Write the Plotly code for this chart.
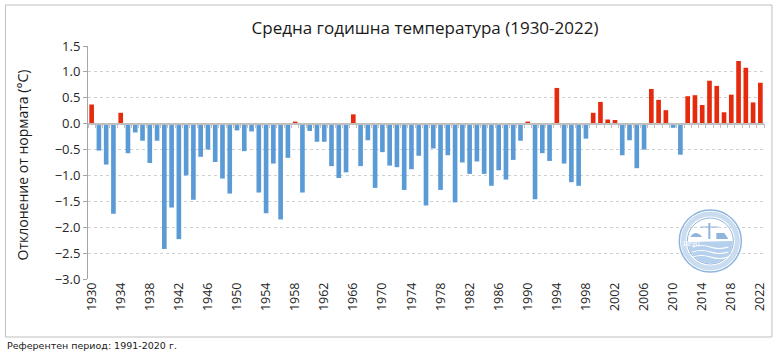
import math
import plotly.graph_objects as go

years = list(range(1930, 2023))
anomalies = [
    0.37, -0.52, -0.79, -1.74, 0.21, -0.57, -0.17, -0.33, -0.76, -0.33,   # 1930-1939
    -2.42, -1.62, -2.23, -1.00, -1.47, -0.64, -0.50, -0.74, -1.06, -1.35, # 1940-1949
    -0.13, -0.53, -0.15, -1.33, -1.73, -0.77, -1.85, -0.66, 0.04, -1.33,  # 1950-1959
    -0.14, -0.35, -0.35, -0.82, -1.05, -0.94, 0.18, -0.82, -0.32, -1.24,  # 1960-1969
    -0.55, -0.81, -0.84, -1.28, -0.88, -0.62, -1.58, -0.48, -1.28, -0.61, # 1970-1979
    -1.52, -0.75, -0.97, -0.73, -0.97, -1.20, -0.90, -1.08, -0.70, -0.33, # 1980-1989
    0.04, -1.46, -0.57, -0.72, 0.69, -0.77, -1.13, -1.20, -0.29, 0.21,    # 1990-1999
    0.42, 0.08, 0.07, -0.61, -0.32, -0.86, -0.50, 0.67, 0.46, 0.26,       # 2000-2009
    -0.08, -0.60, 0.53, 0.55, 0.36, 0.83, 0.73, 0.22, 0.56, 1.21,         # 2010-2019
    1.08, 0.41, 0.79,                                                     # 2020-2022
]
x_tick_years = list(range(1930, 2023, 4))
y_ticks = [1.5, 1.0, 0.5, 0.0, -0.5, -1.0, -1.5, -2.0, -2.5, -3.0]

title_text = "Средна годишна температура (1930-2022)"
y_title = "Отклонение от нормата (°C)"
footnote = "Референтен период: 1991-2020 г."
logo_year = "1890"

RED = "#e52a0e"
BLUE = "#5b9bd5"
colors = [RED if v > 0 else BLUE for v in anomalies]

W, H = 780, 357
L, R, T, B = 88, 12, 46, 78
PW, PH = W - L - R, H - T - B


def px(xp):
    return (xp - L) / PW


def py(yp):
    return (H - B - yp) / PH


fig = go.Figure()
fig.add_trace(go.Bar(
    x=years, y=anomalies, marker=dict(color=colors, line=dict(width=0)),
    hoverinfo="skip", showlegend=False,
))
# invisible trace to activate the zero-line axis
fig.add_trace(go.Scatter(
    x=[years[0]], y=[0], xaxis="x2", mode="markers",
    marker=dict(opacity=0), hoverinfo="skip", showlegend=False,
))

xr = [years[0] - 0.5, years[-1] + 0.5]
font_main = "Open Sans, Liberation Sans, sans-serif"

fig.update_layout(
    width=W, height=H,
    margin=dict(l=L, r=R, t=T, b=B),
    paper_bgcolor="white", plot_bgcolor="white",
    bargap=0.36,
    title=dict(text=title_text, x=425 / W, xref="container", xanchor="center",
               y=1 - 28 / H, yref="container", yanchor="middle",
               font=dict(family=font_main, size=17, color="#1a1a1a")),
    xaxis=dict(
        range=xr, tickmode="array", tickvals=x_tick_years,
        ticktext=[str(y) for y in x_tick_years], tickangle=-90,
        showgrid=False, zeroline=False, showline=False, ticks="",
        tickfont=dict(family=font_main, size=12.5, color="#262626"),
    ),
    xaxis2=dict(
        overlaying="x", anchor="free", position=3 / 4.5, side="bottom",
        range=xr, tickmode="array",
        tickvals=[y - 0.5 for y in years] + [years[-1] + 0.5],
        ticks="outside", ticklen=4, tickcolor="#bfbfbf", tickwidth=1,
        showticklabels=False, showgrid=False, zeroline=False,
        showline=True, linecolor="#bfbfbf", linewidth=1.5,
    ),
    yaxis=dict(
        range=[-3.0, 1.5], tickmode="array", tickvals=y_ticks,
        tickformat=".1f", showgrid=True, gridcolor="#d0d0d0", griddash="dot",
        gridwidth=1, zeroline=False, showline=True, linecolor="#a6a6a6",
        linewidth=1, ticks="outside", ticklen=4, tickcolor="#a6a6a6",
        tickfont=dict(family=font_main, size=13, color="#262626"),
    ),
)

# outer frame
fig.add_shape(type="rect", xref="paper", yref="paper",
              x0=px(5), x1=px(776), y0=py(337), y1=py(5),
              line=dict(color="#bfbfbf", width=1), fillcolor="rgba(0,0,0,0)",
              layer="below")

# y-axis title
fig.add_annotation(text=y_title, xref="paper", yref="paper",
                   x=px(22), y=py(165), textangle=-90, showarrow=False,
                   xanchor="center", yanchor="middle",
                   font=dict(family=font_main, size=14, color="#1a1a1a"))

# footnote
fig.add_annotation(text=footnote, xref="paper", yref="paper",
                   x=px(5), y=py(345), xanchor="left", yanchor="middle",
                   showarrow=False,
                   font=dict(family="DejaVu Sans, Verdana, sans-serif", size=9.5, color="#1a1a1a"))

# logo stamp (approximation, decorative)
cx, cy = px(714), py(241)
LOGO = "#8fb5dd"


def pixshape(**kw):
    fig.add_shape(xref="paper", yref="paper", xsizemode="pixel", ysizemode="pixel",
                  xanchor=cx, yanchor=cy, **kw)


pixshape(type="circle", x0=-31, x1=31, y0=-31, y1=31,
         line=dict(color=LOGO, width=1.5), fillcolor="rgba(255,255,255,0)")
pixshape(type="circle", x0=-27, x1=27, y0=-27, y1=27,
         line=dict(color="#c9dcf0", width=5), fillcolor="rgba(255,255,255,0)")
pixshape(type="circle", x0=-23, x1=23, y0=-23, y1=23,
         line=dict(color=LOGO, width=1), fillcolor="rgba(255,255,255,0)")
pts = ["M -22.5,-1"]
for k in range(0, 19):
    a = math.pi + k * math.pi / 18
    pts.append(f"L {22.5*math.cos(a):.1f},{22.5*math.sin(a):.1f}")
pts.append("Z")
pixshape(type="path", path=" ".join(pts), fillcolor="#b5d0ec", line=dict(width=0))
for dy in (-6, -11, -16):
    pixshape(type="path", path=f"M -18,{dy} Q -9,{dy+3} 0,{dy} T 18,{dy}",
             line=dict(color="white", width=1.2))
pixshape(type="line", x0=-1, x1=-1, y0=2, y1=18, line=dict(color=LOGO, width=2))
pixshape(type="line", x0=-10, x1=8, y0=14, y1=14, line=dict(color=LOGO, width=1))
pixshape(type="path", path="M -20,4 Q -15,12 -8,4 Z", fillcolor=LOGO, line=dict(width=0))
pixshape(type="path", path="M 6,2 L 6,8 L 14,8 L 18,2 Z", fillcolor=LOGO, line=dict(width=0))
fig.add_annotation(text=logo_year, xref="paper", yref="paper", x=px(706), y=py(250),
                   showarrow=False, font=dict(family="DejaVu Sans", size=7, color="white"))

fig.write_html("out.html", config={"displayModeBar": False},
               post_script="document.body.style.margin='0px';")
